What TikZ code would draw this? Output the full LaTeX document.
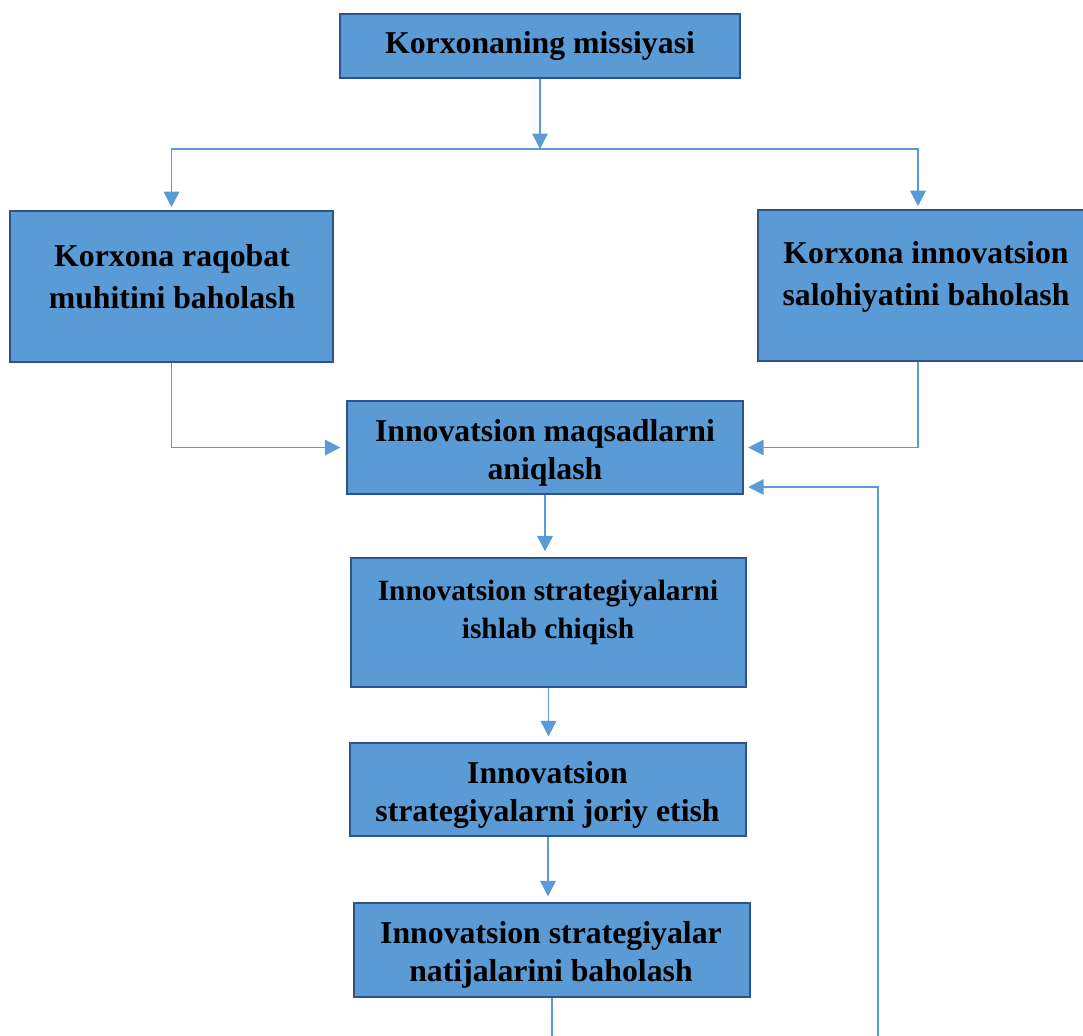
\documentclass[tikz,border=0pt]{standalone}
\usepackage{fontspec}
\setmainfont{Liberation Serif}
\usetikzlibrary{
    positioning,
    arrows.meta,
    calc
}
\definecolor{BoxBlue}{RGB}{91,155,213}
\definecolor{EdgeBlue}{RGB}{47,82,143}
\definecolor{LineBlue}{RGB}{91,155,213}

\begin{document}
\begin{tikzpicture}[
    x=0.025cm, y=-0.025cm,
    box/.style={draw=EdgeBlue, fill=BoxBlue, line width=1.4pt, inner sep=0pt},
    lbl/.style={align=center, font=\fontsize{22.6}{27}\selectfont\bfseries, inner sep=0pt},
    lblwide/.style={lbl, font=\fontsize{22.6}{30}\selectfont\bfseries},
    lblsmall/.style={lbl, font=\fontsize{20.9}{27}\selectfont\bfseries},
    conn/.style={LineBlue, line width=1.3pt, -{Triangle[width=11pt,length=11pt]}, shorten >=4pt},
]
    \useasboundingbox (0,0) rectangle (1083,1035);

    % Mission
    \node[box, minimum width=10cm, minimum height=1.6cm] (mission) at (540,46) {};
    \node[lbl] (missiontxt) at (540,46) {Korxonaning missiyasi};

    % Two assessments
    \node[box, minimum width=8.075cm, minimum height=3.775cm] (compet) at (171.5,286.5) {};
    \node[lblwide] (compettxt) at (172,277) {Korxona raqobat\\muhitini baholash};
    \node[box, minimum width=8.225cm, minimum height=3.775cm] (innov) at (922.5,285.5) {};
    \node[lblwide] (innovtxt) at (926,277) {Korxona innovatsion\\salohiyatini baholash};

    % Main chain
    \node[box, minimum width=9.9cm, minimum height=2.325cm] (goals) at (545,447.5) {};
    \node[lbl] (goalstxt) at (545,453) {Innovatsion maqsadlarni\\aniqlash};
    \node[box, minimum width=9.875cm, minimum height=3.225cm] (develop) at (548.5,622.5) {};
    \node[lblsmall] (developtxt) at (548,612) {Innovatsion strategiyalarni\\ishlab chiqish};
    \node[box, minimum width=9.9cm, minimum height=2.325cm] (implem) at (548,789.5) {};
    \node[lbl] (implemtxt) at (547.5,794.5) {Innovatsion\\strategiyalarni joriy etish};
    \node[box, minimum width=9.9cm, minimum height=2.35cm] (evaluate) at (552,950) {};
    \node[lbl] (evaluatetxt) at (551,954.5) {Innovatsion strategiyalar\\natijalarini baholash};

    % Split below the mission
    \coordinate (split) at (540,149);
    \coordinate (back) at (878,1080);
    \draw[conn, shorten >=0pt] (mission.south) -- (split);
    \draw[conn, shorten >=2pt] (split) -| (compet.north);
    \draw[conn, shorten >=2pt] (split) -| ([xshift=-3.2pt]innov.north);

    % Into the goals
    \draw[conn] (compet.south) |- (goals.west);
    \draw[conn, shorten >=3pt] ([xshift=-3.2pt]innov.south) |- (goals.east);

    % Down the chain
    \draw[conn] (goals.south) -- (goals.south |- develop.north);
    \draw[conn] (develop.south) -- (develop.south |- implem.north);
    \draw[conn] (implem.south) -- (implem.south |- evaluate.north);

    % Feedback
    \draw[conn, shorten >=3pt] (evaluate.south) |- (back) |- ([yshift=0.2cm]goals.south east);

\end{tikzpicture}
\end{document}
